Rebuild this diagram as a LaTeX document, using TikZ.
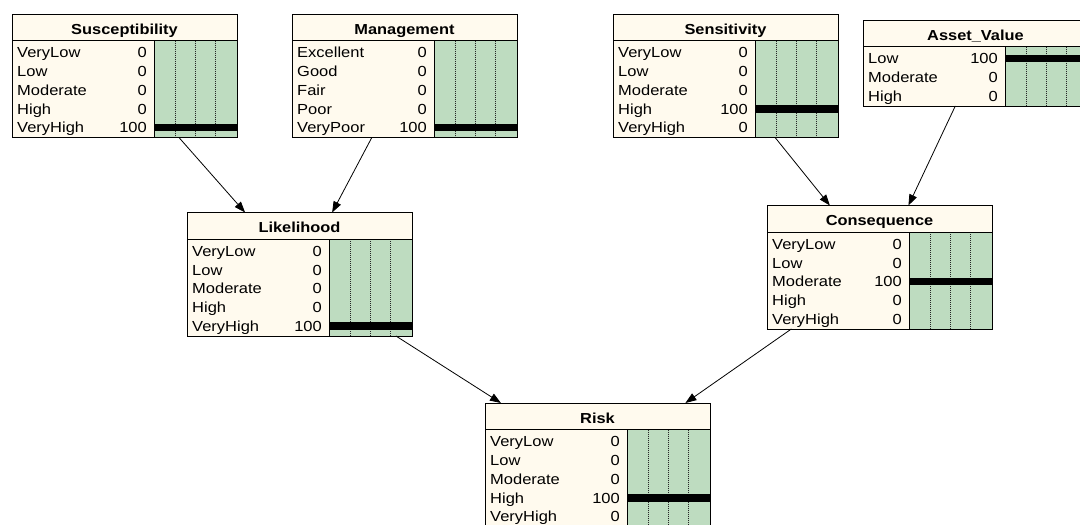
\documentclass[tikz,border=0pt]{standalone}
\usepackage{fontspec}
\setmainfont{Liberation Sans}[FakeStretch=1.13]
\usetikzlibrary{arrows.meta}

\definecolor{netcream}{RGB}{255,250,238}
\definecolor{netgreen}{RGB}{190,220,192}

\tikzset{
  beliefframe/.style={rectangle, fill=netcream, inner sep=0pt, outer sep=0pt,
    minimum width=225pt},
  boxline/.style={draw=black, line width=0.9pt},
  gridline/.style={draw=black!85, line width=0.7pt, dash pattern=on 1pt off 1pt},
  titletext/.style={inner sep=0pt, font=\fontsize{14.5}{16}\selectfont\bfseries},
  statetext/.style={inner sep=0pt, font=\fontsize{14.6}{16}\selectfont},
  link/.style={draw=black, line width=0.8pt, -{Triangle[length=11pt,width=8pt]}},
}

% #1 name, #2 left, #3 top, #4 title, #5 number of states, #6 state/value list
\newcommand{\beliefbox}[6]{%
  \pgfmathsetmacro\bh{26.7+#5*18.75+3}
  \node[beliefframe, minimum height=\bh pt, anchor=north west] (#1) at (#2,#3) {};
  \fill[netgreen] ({#2+142},{#3+26.7}) rectangle ({#2+225},{#3+\bh});
  \foreach \d in {21,41,61}
    \draw[gridline] ({#2+142+\d},{#3+26.7}) -- ({#2+142+\d},{#3+\bh});
  \foreach \lab/\val [count=\i] in {#6}{%
    \pgfmathsetmacro\cy{#3+26.7+2.5+(\i-0.5)*18.75}
    \node[statetext, anchor=base west] at ({#2+5},{\cy+5.2}) {\lab};
    \node[statetext, anchor=base east] at ({#2+135},{\cy+5.2}) {\val};
    \ifnum\val=100\relax
      \fill[black] ({#2+142},{\cy-3.75}) rectangle ({#2+225},{\cy+3.75});
    \fi
  }
  \draw[boxline] ({#2+142},{#3+26.7}) -- ({#2+142},{#3+\bh});
  \draw[boxline] ({#2},{#3+26.7}) -- ({#2+225},{#3+26.7});
  \draw[boxline] (#1.north west) rectangle (#1.south east);
  \node[titletext, anchor=base] at ({#2+112.5},{#3+20}) {#4};
}

\begin{document}
\begin{tikzpicture}[x=1pt, y=-1pt]
  \clip (0,0) rectangle (1080,525);
  \fill[white] (0,0) rectangle (1080,525);

  \beliefbox{sus}{12}{14}{Susceptibility}{5}{VeryLow/0,Low/0,Moderate/0,High/0,VeryHigh/100}
  \beliefbox{man}{292}{14}{Management}{5}{Excellent/0,Good/0,Fair/0,Poor/0,VeryPoor/100}
  \beliefbox{sen}{613}{14}{Sensitivity}{5}{VeryLow/0,Low/0,Moderate/0,High/100,VeryHigh/0}
  \beliefbox{ass}{863}{20}{Asset\_Value}{3}{Low/100,Moderate/0,High/0}
  \beliefbox{lik}{187}{212.5}{Likelihood}{5}{VeryLow/0,Low/0,Moderate/0,High/0,VeryHigh/100}
  \beliefbox{con}{767}{205.5}{Consequence}{5}{VeryLow/0,Low/0,Moderate/100,High/0,VeryHigh/0}
  \beliefbox{risk}{485}{403}{Risk}{5}{VeryLow/0,Low/0,Moderate/0,High/100,VeryHigh/0}

  \draw[link] (sus) -- (lik);
  \draw[link] (man) -- (lik);
  \draw[link] (sen) -- (con);
  \draw[link] (ass) -- (con);
  \draw[link] (lik) -- (risk);
  \draw[link] (con) -- (risk);
\end{tikzpicture}
\end{document}
